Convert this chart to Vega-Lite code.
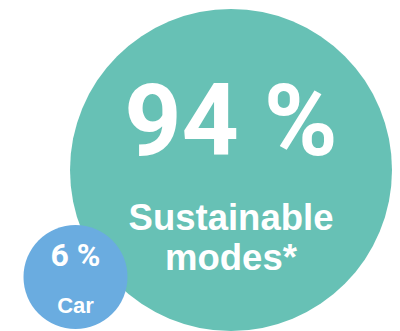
{
  "$schema": "https://vega.github.io/schema/vega-lite/v6.json",
  "width": 400,
  "height": 331,
  "padding": 0,
  "autosize": {"type": "none"},
  "background": "white",
  "config": {"view": {"stroke": null}},
  "data": {"values": [
    {"mode": "Sustainable modes*", "share": 94, "pct": "94 %", "label": ["Sustainable", "modes*"]},
    {"mode": "Car", "share": 6, "pct": "6 %", "label": ["Car"]}
  ]},
  "encoding": {
    "x": {"field": "mode", "type": "nominal", "scale": {"type": "point", "padding": 0, "domain": ["Car", "Sustainable modes*"], "range": [75.5, 231]}, "axis": null},
    "y": {"field": "mode", "type": "nominal", "scale": {"type": "point", "padding": 0, "domain": ["Car", "Sustainable modes*"], "range": [277, 170]}, "axis": null}
  },
  "layer": [
    {
      "mark": {"type": "circle", "opacity": 1},
      "encoding": {
        "size": {"field": "share", "type": "quantitative", "scale": {"domain": [6, 94], "range": [10816, 103684]}, "legend": null},
        "color": {"field": "mode", "type": "nominal", "scale": {"domain": ["Car", "Sustainable modes*"], "range": ["#6AACE0", "#67C1B5"]}, "legend": null},
        "order": {"field": "share", "type": "quantitative", "sort": "descending"}
      }
    },
    {
      "transform": [{"filter": "datum.mode === 'Sustainable modes*'"}],
      "mark": {"type": "text", "font": "Roboto", "fontWeight": "bold", "fontSize": 100, "color": "white", "baseline": "alphabetic", "align": "center", "dy": -15},
      "encoding": {"text": {"field": "pct", "type": "nominal"}}
    },
    {
      "transform": [{"filter": "datum.mode === 'Sustainable modes*'"}],
      "mark": {"type": "text", "font": "Liberation Sans", "fontWeight": "bold", "fontSize": 36.5, "lineHeight": 40, "color": "white", "baseline": "alphabetic", "align": "center", "dy": 60},
      "encoding": {"text": {"field": "label", "type": "nominal"}}
    },
    {
      "transform": [{"filter": "datum.mode === 'Car'"}],
      "mark": {"type": "text", "font": "Roboto", "fontWeight": "bold", "fontSize": 32, "color": "white", "baseline": "alphabetic", "align": "center", "dy": -11},
      "encoding": {"text": {"field": "pct", "type": "nominal"}}
    },
    {
      "transform": [{"filter": "datum.mode === 'Car'"}],
      "mark": {"type": "text", "font": "Liberation Sans", "fontWeight": "bold", "fontSize": 22, "color": "white", "baseline": "alphabetic", "align": "center", "dy": 36},
      "encoding": {"text": {"field": "label", "type": "nominal"}}
    }
  ]
}
